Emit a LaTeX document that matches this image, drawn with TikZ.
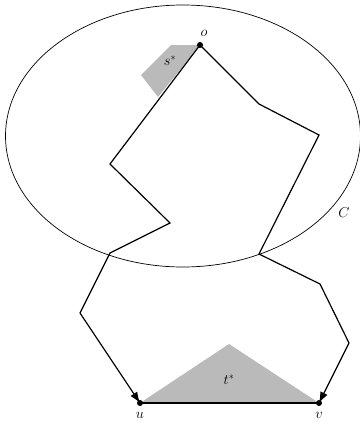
\documentclass[tikz,border=0pt]{standalone}
\usetikzlibrary{arrows.meta,calc}
\begin{document}
\begin{tikzpicture}[x=1pt,y=-1pt,
  every node/.style={font=\fontsize{14}{17}\selectfont},
  pathline/.style={line width=1.2pt, line join=miter},
  dotnode/.style={circle, fill=black, inner sep=0pt, minimum size=6pt},
  arr/.style={-{Latex[length=11pt,width=8pt]}}]
\useasboundingbox (0,0) rectangle (359,423);
% ellipse
\draw[line width=0.7pt] (183,136) ellipse [x radius=177.5, y radius=131];
% shaded regions
\fill[black!27] (200,45) -- (171,45) -- (141,75) -- (158,97) -- cycle;
\fill[black!27] (140,403) -- (229,344) -- (319,403) -- cycle;
% named points
\node[dotnode] (o) at (200,45) {};
\node[dotnode] (u) at (140,403) {};
\node[dotnode] (v) at (319,403) {};
\coordinate (l1) at (110,164);
\coordinate (l2) at (170,223);
\coordinate (l3) at (110,253);
\coordinate (l4) at (80,313);
\coordinate (r1) at (259,104);
\coordinate (r2) at (319,135);
\coordinate (r3) at (259,254);
\coordinate (r4) at (320,284);
\coordinate (r5) at (349,343);
% paths
\draw[pathline] (o.center) -- (l1) -- (l2) -- (l3) -- (l4);
\draw[pathline,arr] (l4) -- (u.center);
\draw[pathline] (o.center) -- (r1) -- (r2) -- (r3) -- (r4) -- (r5);
\draw[pathline,arr] (r5) -- (v.center);
\draw[pathline] (u.center) -- (v.center);
% labels
\node (ol) at ($(o)+(4,-12)$) {$o$};
\node (ul) at ($(u)+(0,12)$) {$u$};
\node (vl) at ($(v)+(0,12)$) {$v$};
\node (sl) at (170,61) {$s^*$};
\node (tl) at (229,380) {$t^*$};
\node (cl) at (344,213) {$C$};
\end{tikzpicture}
\end{document}
